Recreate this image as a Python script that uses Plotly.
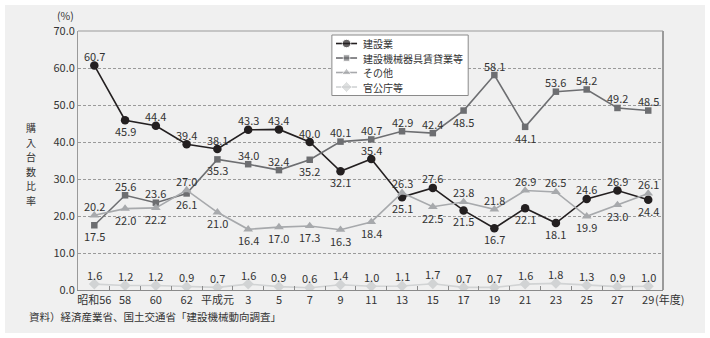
import plotly.graph_objects as go

# Fiscal years (every two years)
years = ["昭和56", "58", "60", "62", "平成元", "3", "5", "7", "9", "11",
         "13", "15", "17", "19", "21", "23", "25", "27", "29"]

# Share of purchased units by buyer category (%)
construction = [60.7, 45.9, 44.4, 39.4, 38.1, 43.3, 43.4, 40.0, 32.1, 35.4,
                25.1, 27.6, 21.5, 16.7, 22.1, 18.1, 24.6, 26.9, 24.4]
rental = [17.5, 25.6, 23.6, 26.1, 35.3, 34.0, 32.4, 35.2, 40.1, 40.7,
          42.9, 42.4, 48.5, 58.1, 44.1, 53.6, 54.2, 49.2, 48.5]
other = [20.2, 22.0, 22.2, 27.0, 21.0, 16.4, 17.0, 17.3, 16.3, 18.4,
         26.3, 22.5, 23.8, 21.8, 26.9, 26.5, 19.9, 23.0, 26.1]
government = [1.6, 1.2, 1.2, 0.9, 0.7, 1.6, 0.9, 0.6, 1.4, 1.0,
              1.1, 1.7, 0.7, 0.7, 1.6, 1.8, 1.3, 0.9, 1.0]

series_names = ["建設業", "建設機械器具賃貸業等", "その他", "官公庁等"]

# Value label placement per point: a = above, b = below
label_side = [
    "abaaaaaabababbbbaab",
    "baabbaabaaaababaaaa",
    "abbabbbbbbabaaaabba",
    "aaaaaaaaaaaaaaaaaaa",
]

styles = [
    dict(color="#231f20", symbol="circle", size=8.5, width=1.6),
    dict(color="#6d6e71", symbol="square", size=6.5, width=1.6),
    dict(color="#a7a9ac", symbol="triangle-up", size=8.5, width=1.6),
    dict(color="#d1d3d4", symbol="diamond", size=8.5, width=1.6),
]

FONT = "Noto Sans CJK JP"
TEXT = "#333333"
PLOT_H = 259  # plot area height in px (338 - 31 - 48)

x_idx = list(range(len(years)))
all_series = [construction, rental, other, government]

fig = go.Figure()

for name, vals, st in zip(series_names, all_series, styles):
    fig.add_trace(go.Scatter(
        x=x_idx, y=vals, name=name, mode="lines+markers",
        line=dict(color=st["color"], width=st["width"]),
        marker=dict(color=st["color"], symbol=st["symbol"], size=st["size"]),
        showlegend=False, hoverinfo="skip",
    ))

annotations = []
for vals, sides in zip(all_series, label_side):
    for i, (v, s) in enumerate(zip(vals, sides)):
        annotations.append(dict(
            x=i, y=v, xref="x", yref="y", text=f"{v:.1f}", showarrow=False,
            yanchor="middle", xanchor="center", borderpad=0,
            yshift=9.5 if s == "a" else -11,
            font=dict(family=FONT, size=11, color=TEXT),
        ))

# Legend drawn on an overlay axis spanning the plot area (0..1 both ways)
row_pitch = 14.5 / PLOT_H
row_top = 0.9517
row_y = [row_top - k * row_pitch for k in range(len(series_names))]
lg_x0, lg_x1 = 0.434, 0.667
lg_y1 = row_top + 8.5 / PLOT_H
lg_y0 = row_y[-1] - 8.5 / PLOT_H
fig.add_trace(go.Scatter(
    x=[lg_x0, lg_x1, lg_x1, lg_x0, lg_x0], y=[lg_y0, lg_y0, lg_y1, lg_y1, lg_y0],
    xaxis="x2", yaxis="y2", mode="lines", fill="toself", fillcolor="white",
    line=dict(color="#8a8a8a", width=1), showlegend=False, hoverinfo="skip",
))
for name, st, ry in zip(series_names, styles, row_y):
    fig.add_trace(go.Scatter(
        x=[0.441, 0.459, 0.477], y=[ry, ry, ry], xaxis="x2", yaxis="y2",
        mode="lines+markers",
        line=dict(color=st["color"], width=st["width"]),
        marker=dict(color=st["color"], symbol=st["symbol"],
                    size=[0, st["size"], 0]),
        showlegend=False, hoverinfo="skip",
    ))
    annotations.append(dict(
        x=0.485, y=ry, xref="x2", yref="y2", text=name, showarrow=False,
        xanchor="left", yanchor="middle", borderpad=0,
        font=dict(family=FONT, size=10, color=TEXT),
    ))

# Axis captions and source note
annotations.append(dict(x=-0.022, y=1.058, xref="paper", yref="paper", text="(%)",
                        showarrow=False, xanchor="center", yanchor="middle",
                        borderpad=0,
                        font=dict(family=FONT, size=10.5, color=TEXT)))
annotations.append(dict(x=18, y=-0.035, xref="x", yref="paper", text="(年度)",
                        showarrow=False, xanchor="left", yanchor="middle", xshift=6,
                        borderpad=0,
                        font=dict(family=FONT, size=11, color=TEXT)))
# vertical (stacked) axis title
title_chars = "購入台数比率"
for k, ch in enumerate(title_chars):
    annotations.append(dict(x=-0.081, y=0.486, xref="paper", yref="paper", text=ch,
                            showarrow=False, xanchor="center", yanchor="middle",
                            yshift=((len(title_chars) - 1) / 2 - k) * 14.5,
                            borderpad=0,
                            font=dict(family=FONT, size=10, color=TEXT)))
annotations.append(dict(x=-0.0855, y=-0.104, xref="paper", yref="paper",
                        text="資料）経済産業省、国土交通省「建設機械動向調査」",
                        showarrow=False, xanchor="left", yanchor="middle",
                        borderpad=0,
                        font=dict(family=FONT, size=10.5, color=TEXT)))

shapes = [
    # grey panel behind the whole chart
    dict(type="rect", xref="paper", yref="paper", x0=-0.1248, x1=1.0718,
         y0=-0.166, y1=1.1004, fillcolor="#f0f0f0", line=dict(width=0), layer="below"),
    # frame: top and right edges
    dict(type="line", xref="paper", yref="paper", x0=0, x1=1, y0=1, y1=1,
         line=dict(color="#9a9a9a", width=1)),
    dict(type="line", xref="paper", yref="paper", x0=1, x1=1, y0=0, y1=1,
         line=dict(color="#9a9a9a", width=2)),
]

fig.update_layout(
    width=710, height=338,
    margin=dict(l=78, r=47, t=31, b=48),
    paper_bgcolor="white", plot_bgcolor="white",
    font=dict(family=FONT, size=11, color=TEXT),
    xaxis=dict(
        range=[-0.53, 18.48], tickmode="array", tickvals=x_idx, ticktext=years,
        ticks="", showgrid=False, zeroline=False, showline=True,
        linecolor="#8a8a8a", linewidth=1, fixedrange=True,
        tickfont=dict(family=FONT, size=11, color=TEXT),
        minor=dict(tickmode="array", tickvals=[i + 0.5 for i in x_idx[:-1]],
                   ticks="inside", ticklen=4, tickcolor="#8a8a8a", tickwidth=1,
                   showgrid=False),
    ),
    yaxis=dict(
        range=[0, 70], dtick=10, tickformat=".1f", ticks="",
        showgrid=True, gridcolor="#9a9a9a", gridwidth=1, griddash="3px,2px",
        zeroline=False, showline=True, linecolor="#9a9a9a", linewidth=1,
        fixedrange=True, tickfont=dict(family=FONT, size=11, color=TEXT),
    ),
    xaxis2=dict(overlaying="x", range=[0, 1], visible=False, fixedrange=True),
    yaxis2=dict(overlaying="y", range=[0, 1], visible=False, fixedrange=True),
    annotations=annotations,
    shapes=shapes,
    showlegend=False,
)

fig.write_html("out.html")
